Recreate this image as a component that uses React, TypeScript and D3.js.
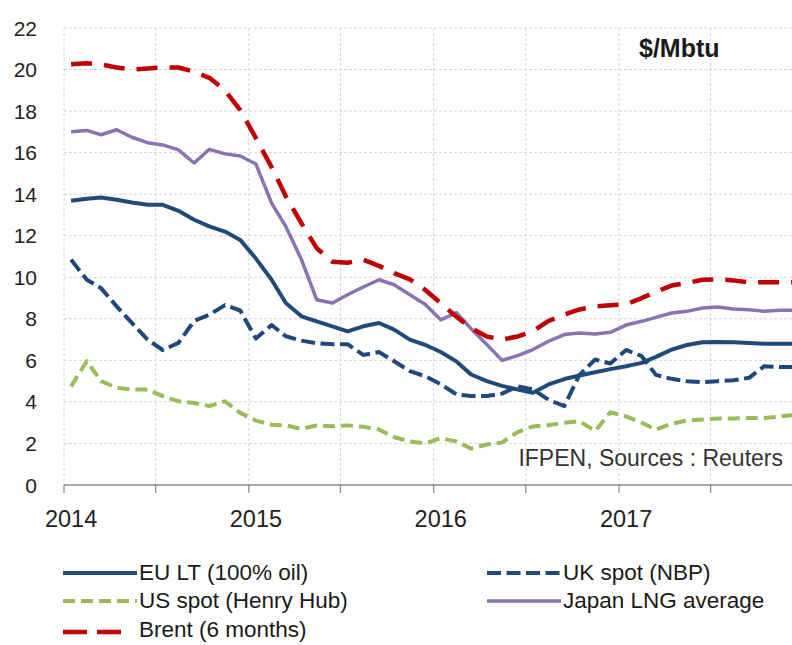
import React from "react";
import * as d3 from "d3";

// ---- Data (monthly, Jan 2014 .. Dec 2017), $/Mbtu ----
const startYear = 2014;
const monthCount = 48;

const euLT = [
  13.68, 13.78, 13.84, 13.73, 13.6, 13.49, 13.49, 13.2, 12.77, 12.45, 12.2, 11.8,
  10.9, 9.88, 8.76, 8.12, 7.88, 7.64, 7.4, 7.64, 7.8, 7.48, 7.0, 6.75,
  6.4, 5.95, 5.32, 5.0, 4.77, 4.6, 4.44, 4.84, 5.1, 5.27, 5.43, 5.58,
  5.72, 5.88, 6.17, 6.52, 6.74, 6.87, 6.88, 6.87, 6.84, 6.8, 6.8, 6.8,
];
const ukNBP = [
  10.85, 9.88, 9.48, 8.6, 7.8, 7.0, 6.5, 6.84, 7.9, 8.2, 8.66, 8.4,
  7.05, 7.7, 7.16, 6.95, 6.82, 6.78, 6.78, 6.26, 6.4, 5.96, 5.48, 5.24,
  4.85, 4.36, 4.28, 4.28, 4.4, 4.75, 4.6, 4.1, 3.8, 5.3, 6.04, 5.85,
  6.5, 6.2, 5.3, 5.11, 5.0, 4.95, 5.0, 5.04, 5.16, 5.72, 5.68, 5.68,
];
const usHH = [
  4.75, 5.96, 5.0, 4.68, 4.6, 4.6, 4.28, 4.03, 3.95, 3.8, 4.03, 3.47,
  3.1, 2.9, 2.87, 2.7, 2.87, 2.83, 2.87, 2.8, 2.67, 2.3, 2.1, 2.0,
  2.25, 2.1, 1.75, 1.95, 2.05, 2.55, 2.82, 2.88, 3.0, 3.07, 2.6, 3.5,
  3.3, 3.0, 2.67, 2.95, 3.1, 3.15, 3.2, 3.2, 3.22, 3.22, 3.3, 3.38,
];
const japanLNG = [
  17.0, 17.07, 16.86, 17.1, 16.74, 16.48, 16.37, 16.13, 15.5, 16.16, 15.94, 15.84,
  15.45, 13.57, 12.45, 10.85, 8.92, 8.76, 9.16, 9.53, 9.88, 9.64, 9.16, 8.7,
  7.95, 8.3, 7.52, 6.76, 6.0, 6.23, 6.52, 6.92, 7.24, 7.32, 7.27, 7.35,
  7.7, 7.88, 8.07, 8.28, 8.36, 8.52, 8.57, 8.47, 8.44, 8.36, 8.41, 8.41,
];
const brent = [
  20.25, 20.3, 20.25, 20.1, 20.0, 20.05, 20.1, 20.1, 19.9, 19.6, 19.0, 18.05,
  16.7, 15.3, 13.9, 12.6, 11.4, 10.75, 10.7, 10.85, 10.55, 10.2, 9.9, 9.4,
  8.75, 8.1, 7.55, 7.15, 7.0, 7.15, 7.4, 7.9, 8.2, 8.45, 8.6, 8.65,
  8.7, 9.0, 9.3, 9.6, 9.72, 9.88, 9.9, 9.85, 9.76, 9.76, 9.76, 9.76,
];

const yTicks = [0, 2, 4, 6, 8, 10, 12, 14, 16, 18, 20, 22];
const yearLabels = ["2014", "2015", "2016", "2017"];

const seriesNames = [
  "EU LT (100% oil)",
  "UK spot (NBP)",
  "US spot (Henry Hub)",
  "Japan LNG average",
  "Brent (6 months)",
];

// ---- Layout / style ----
const W = 792;
const H = 645;
const X0 = 64;
const Y0 = 485;
const YTOP = 28;

const styles = [
  { values: euLT, color: "#1f4a7c", width: 4, dash: null, legDash: null, legLen: 74 },
  { values: ukNBP, color: "#1f497d", width: 4, dash: "14,5.5", legDash: "14,5.5", legLen: 74 },
  { values: usHH, color: "#9bbb59", width: 4, dash: "12,6", legDash: "12,6", legLen: 74 },
  { values: japanLNG, color: "#8b72b0", width: 3.5, dash: null, legDash: null, legLen: 74 },
  { values: brent, color: "#c00000", width: 4.5, dash: "21,12", legDash: "24,10", legLen: 58 },
];

const legendPos = [
  { x: 63, y: 580 },
  { x: 487, y: 580 },
  { x: 63, y: 608 },
  { x: 487, y: 608 },
  { x: 63, y: 637 },
];

const FONT = "'Liberation Sans', Arial, sans-serif";

export default function App() {
  const x = d3
    .scaleTime()
    .domain([new Date(startYear, 0, 1), new Date(startYear + 4, 0, 1)])
    .range([X0, 803.8]);
  const y = d3.scaleLinear().domain([0, 22]).range([Y0, YTOP]);

  const dates = d3.range(monthCount).map((i) => new Date(startYear, i, 15));
  const line = d3
    .line<number>()
    .x((_, i) => x(dates[i]))
    .y((d) => y(d));

  const halfYears = d3.timeMonth
    .every(6)!
    .range(new Date(startYear, 0, 1), new Date(startYear + 4, 0, 2));

  return (
    <div style={{ position: "absolute", left: 0, top: 0 }}>
      <svg width={W} height={H} style={{ display: "block", background: "#fff" }}>
        <defs>
          <clipPath id="plot">
            <rect x={X0} y={0} width={W - X0} height={Y0 + 4} />
          </clipPath>
        </defs>
        <rect x={0} y={0} width={W} height={H} fill="#fff" />

        {/* horizontal gridlines */}
        {yTicks
          .filter((t) => t > 0)
          .map((t) => (
            <line
              key={"h" + t}
              x1={X0}
              x2={W}
              y1={y(t)}
              y2={y(t)}
              stroke="#d4d4d4"
              strokeWidth={1}
              strokeDasharray="3,2"
            />
          ))}
        {/* vertical gridlines */}
        {halfYears.map((d, i) => (
          <line
            key={"v" + i}
            x1={x(d)}
            x2={x(d)}
            y1={YTOP}
            y2={Y0}
            stroke="#d4d4d4"
            strokeWidth={1}
            strokeDasharray="3,2"
          />
        ))}

        {/* x axis */}
        <line x1={X0} x2={W} y1={Y0} y2={Y0} stroke="#8c8c8c" strokeWidth={1.3} />
        {halfYears.map((d, i) => (
          <line
            key={"t" + i}
            x1={x(d)}
            x2={x(d)}
            y1={Y0}
            y2={Y0 + 8}
            stroke="#8c8c8c"
            strokeWidth={1.3}
          />
        ))}

        {/* y labels */}
        {yTicks.map((t) => (
          <text
            key={"yl" + t}
            x={37}
            y={y(t) + 7.5}
            textAnchor="end"
            fontFamily={FONT}
            fontSize={21}
            fill="#222"
          >
            {t}
          </text>
        ))}

        {/* year labels */}
        {yearLabels.map((lab) => (
          <text
            key={lab}
            x={x(new Date(+lab, 0, 15))}
            y={527}
            textAnchor="middle"
            fontFamily={FONT}
            fontSize={23.5}
            fill="#222"
          >
            {lab}
          </text>
        ))}

        {/* series */}
        <g clipPath="url(#plot)">
          {styles.map((s, i) => (
            <path
              key={"s" + i}
              d={line(s.values) || ""}
              fill="none"
              stroke={s.color}
              strokeWidth={s.width}
              strokeDasharray={s.dash || undefined}
              strokeLinejoin="round"
            />
          ))}
        </g>

        {/* unit label */}
        <text x={639} y={57} fontFamily={FONT} fontSize={25} fontWeight="bold" fill="#1a1a1a">
          $/Mbtu
        </text>

        {/* source */}
        <text x={783} y={466} textAnchor="end" fontFamily={FONT} fontSize={23} fill="#333">
          IFPEN, Sources : Reuters
        </text>

        {/* legend */}
        {styles.map((s, i) => {
          const p = legendPos[i];
          const ly = p.y - 7 + (i === 4 ? 2 : 0);
          return (
            <g key={"lg" + i}>
              <line
                x1={p.x}
                x2={p.x + s.legLen}
                y1={ly}
                y2={ly}
                stroke={s.color}
                strokeWidth={s.width}
                strokeDasharray={s.legDash || undefined}
              />
              <text
                x={p.x + 76}
                y={p.y}
                fontFamily={FONT}
                fontSize={22.5}
                fill="#1a1a1a"
              >
                {seriesNames[i]}
              </text>
            </g>
          );
        })}
      </svg>
    </div>
  );
}
